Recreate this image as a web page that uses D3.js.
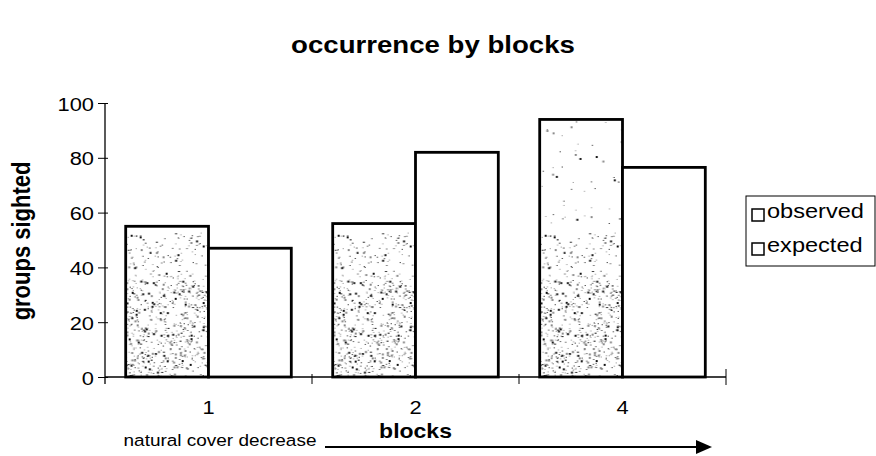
<!DOCTYPE html>
<html>
<head>
<meta charset="utf-8">
<script src="https://cdn.jsdelivr.net/npm/d3@7"></script>
<style>
  body { margin: 0; background: #fff; }
  text { font-family: "Liberation Sans", Arial, sans-serif; fill: #000; }
</style>
</head>
<body>
<svg width="876" height="456"></svg>
<script>
var blocks = ["1", "2", "4"];
var seriesNames = ["observed", "expected"];
var observed = [55, 56, 94];
var expected = [47, 82, 76.5];
var yTicks = [0, 20, 40, 60, 80, 100];

var svg = d3.select("svg");

// the scanned original is stretched a little sideways
var sx = 1.15;
var pLeft = 105, pRight = 726, pTop = 103, pBottom = 377;

var x = d3.scaleBand().domain(blocks).range([pLeft, pRight])
          .paddingInner(0.2).paddingOuter(0.1);
var xSub = d3.scaleBand().domain(seriesNames).range([0, x.bandwidth()]);
var y = d3.scaleLinear().domain([0, 100]).range([pBottom, pTop]);

function label(px, py, txt, size, bold, anchor, rot) {
  return svg.append("text")
    .attr("transform", "translate(" + px + "," + py + ") scale(" + sx + ",1)" + (rot ? " rotate(" + rot + ")" : ""))
    .attr("text-anchor", anchor || "middle")
    .style("font-size", size + "px")
    .style("font-weight", bold ? "bold" : "normal")
    .text(txt);
}

// stipple texture for the observed bars (fixed pseudo-random dots, denser near the base)
var seed = 7;
function rnd() { seed = (seed * 16807) % 2147483647; return seed / 2147483647; }
var defs = svg.append("defs");
var pat = defs.append("pattern")
   .attr("id", "stipple")
   .attr("patternUnits", "userSpaceOnUse")
   .attr("x", 0).attr("y", 0)
   .attr("width", 90).attr("height", 456);
for (var i = 0; i < 3000; i++) {
  var py = pTop + rnd() * (pBottom - pTop);
  var v = y.invert(py);
  var dens = v < 36 ? 0.65 : (v < 52 ? 0.28 : 0.05);
  var a = rnd(), b = rnd(), c = rnd(), e = rnd();
  if (a > dens) continue;
  pat.append("rect")
     .attr("x", b * 90)
     .attr("y", py)
     .attr("width", c < 0.3 ? 2 : 1)
     .attr("height", c < 0.2 ? 2 : 1)
     .attr("fill", e < 0.45 ? "#111" : "#888");
}

// title
label(433, 53, "occurrence by blocks", 24, true);

// bars
var groups = svg.selectAll(".grp")
   .data(blocks)
   .enter().append("g")
   .attr("class", "grp")
   .attr("transform", function(d) { return "translate(" + x(d) + ",0)"; });

groups.selectAll("rect")
   .data(function(d, i) { return [{k: "observed", v: observed[i]}, {k: "expected", v: expected[i]}]; })
   .enter().append("rect")
   .attr("x", function(d) { return xSub(d.k); })
   .attr("y", function(d) { return y(d.v); })
   .attr("width", xSub.bandwidth())
   .attr("height", function(d) { return y(0) - y(d.v); })
   .attr("fill", function(d) { return d.k == "observed" ? "url(#stipple)" : "#fff"; })
   .attr("stroke", "#000")
   .attr("stroke-width", 2.8);

// y axis
var yAxis = svg.append("g")
   .attr("transform", "translate(" + pLeft + ",0)")
   .call(d3.axisLeft(y).tickValues(yTicks).tickSize(7));
yAxis.select(".domain").attr("d", "M0," + (pBottom + 7) + "V" + pTop).attr("stroke-width", 1.3);
yAxis.selectAll(".tick line").attr("x1", 3);
yAxis.selectAll(".tick text")
   .attr("x", null).attr("dy", null)
   .attr("transform", "translate(-11,7) scale(" + sx + ",1)")
   .attr("text-anchor", "end")
   .style("font-size", "19px")
   .style("font-family", "Liberation Sans, Arial, sans-serif");

// x axis
var xAxis = svg.append("g")
   .attr("transform", "translate(0," + pBottom + ")")
   .call(d3.axisBottom(x).tickSize(0));
xAxis.select(".domain").attr("d", "M" + pLeft + ",0H" + pRight).attr("stroke-width", 1.3);
xAxis.selectAll(".tick text")
   .attr("y", null).attr("dy", null)
   .attr("transform", "translate(0,37) scale(" + sx + ",1)")
   .style("font-size", "19px")
   .style("font-family", "Liberation Sans, Arial, sans-serif");

var bounds = d3.range(1, blocks.length + 1).map(function(i) { return pLeft + i * x.step(); });
xAxis.selectAll(".sep")
   .data(bounds)
   .enter().append("line")
   .attr("x1", function(d) { return d; })
   .attr("x2", function(d) { return d; })
   .attr("y1", function(d, i) { return i == bounds.length - 1 ? -8 : -3; })
   .attr("y2", function(d, i) { return i == bounds.length - 1 ? 8 : 7; })
   .attr("stroke", "#000");

// y label
label(30, 241, "groups sighted", 22, true, "middle", -90);

// x label and arrow
label(x("2") + x.bandwidth() / 2, 438, "blocks", 20, true);
label(220, 446, "natural cover decrease", 16.5, false);

defs.append("marker")
   .attr("id", "arrow")
   .attr("viewBox", "0 0 10 10")
   .attr("refX", 0).attr("refY", 5)
   .attr("markerWidth", 16).attr("markerHeight", 14)
   .attr("markerUnits", "userSpaceOnUse")
   .attr("orient", "auto")
   .attr("preserveAspectRatio", "none")
   .append("path").attr("d", "M0,0L10,5L0,10Z").attr("fill", "#000");

svg.append("line")
   .attr("x1", 325).attr("x2", 696)
   .attr("y1", 447).attr("y2", 447)
   .attr("stroke", "#000").attr("stroke-width", 2)
   .attr("marker-end", "url(#arrow)");

// legend
var legend = svg.append("g").attr("transform", "translate(746,196)");
legend.append("rect")
   .attr("width", 129).attr("height", 70)
   .attr("fill", "#fff").attr("stroke", "#000");
var items = legend.selectAll(".item")
   .data(seriesNames)
   .enter().append("g")
   .attr("class", "item")
   .attr("transform", function(d, i) { return "translate(6," + (13 + i * 34) + ")"; });
items.append("rect")
   .attr("width", 12).attr("height", 12)
   .attr("fill", "#fff").attr("stroke", "#000").attr("stroke-width", 1.5);
items.append("text")
   .attr("transform", "translate(15,9) scale(" + sx + ",1)")
   .style("font-size", "20.5px")
   .text(function(d) { return d; });
</script>
</body>
</html>
